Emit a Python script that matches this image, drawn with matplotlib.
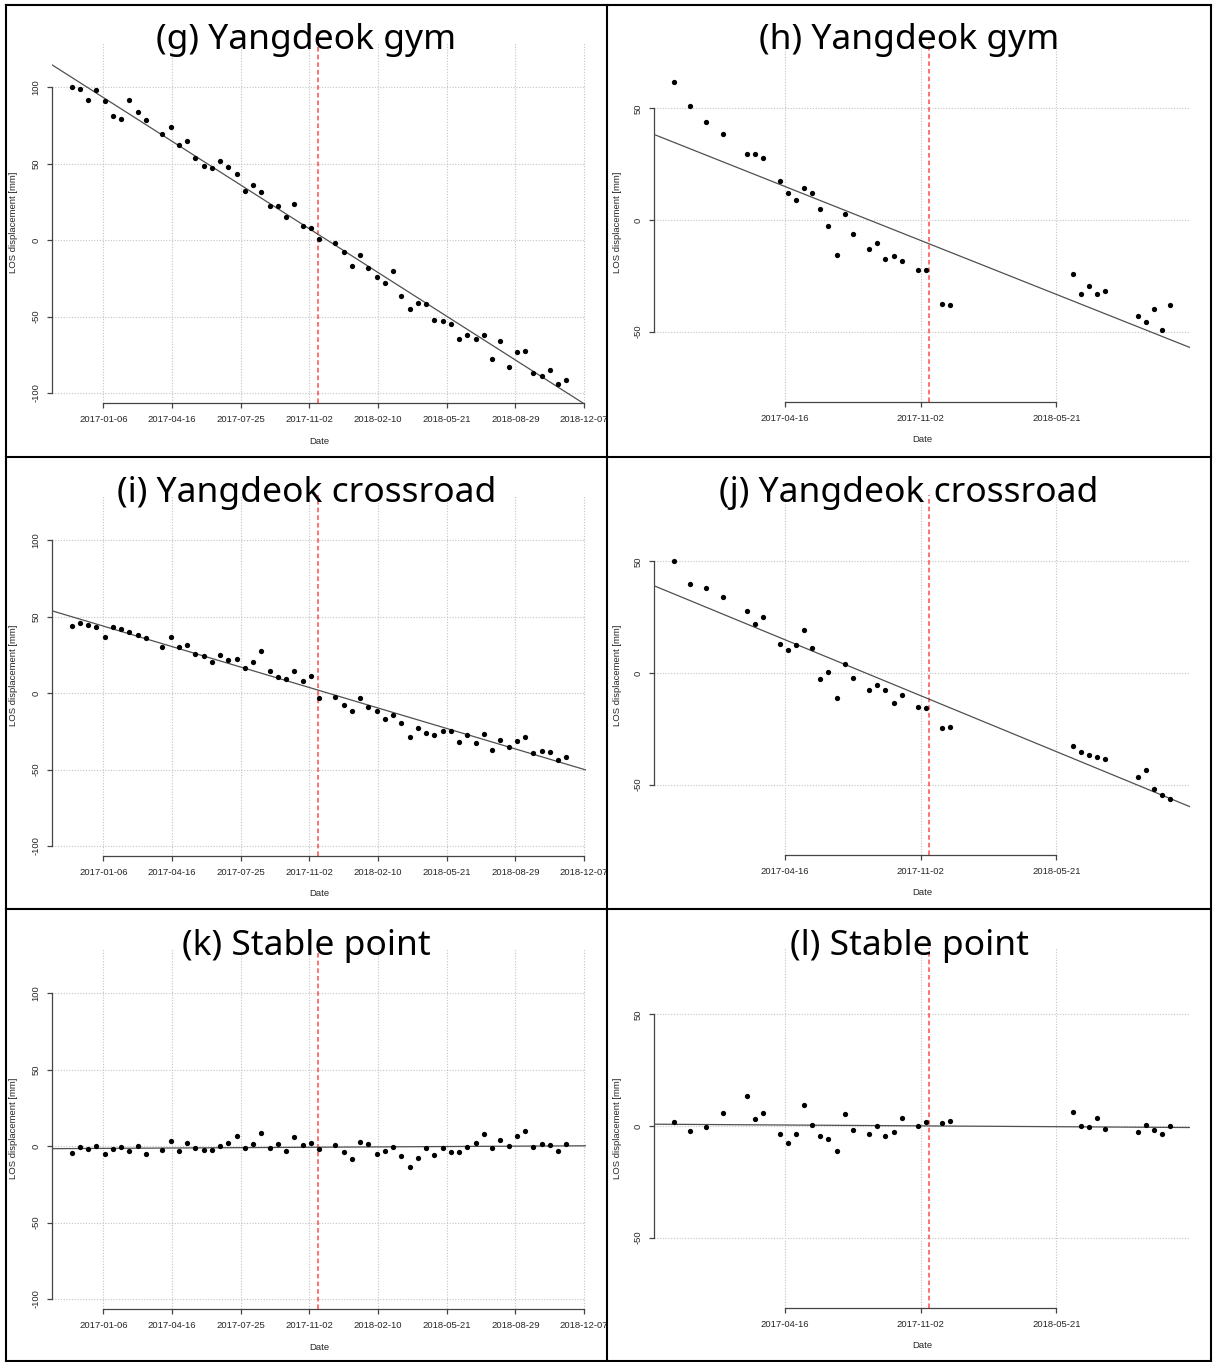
import matplotlib
matplotlib.use('Agg')
import matplotlib.pyplot as plt
import matplotlib.dates as mdates
from matplotlib.lines import Line2D
import numpy as np
import pandas as pd

W, H = 1213, 1362

# acquisition dates, first data set (panels g, i, k)
dates_a = ['2016-11-21', '2016-12-03', '2016-12-15', '2016-12-27', '2017-01-08',
           '2017-01-20', '2017-02-01', '2017-02-13', '2017-02-25', '2017-03-09',
           '2017-04-02', '2017-04-14', '2017-04-26', '2017-05-08', '2017-05-20',
           '2017-06-01', '2017-06-13', '2017-06-25', '2017-07-07', '2017-07-19',
           '2017-07-31', '2017-08-12', '2017-08-24', '2017-09-05', '2017-09-17',
           '2017-09-29', '2017-10-11', '2017-10-23', '2017-11-04', '2017-11-16',
           '2017-12-10', '2017-12-22', '2018-01-03', '2018-01-15', '2018-01-27',
           '2018-02-08', '2018-02-20', '2018-03-04', '2018-03-16', '2018-03-28',
           '2018-04-09', '2018-04-21', '2018-05-03', '2018-05-15', '2018-05-27',
           '2018-06-08', '2018-06-20', '2018-07-02', '2018-07-14', '2018-07-26',
           '2018-08-07', '2018-08-19', '2018-08-31', '2018-09-12', '2018-09-24',
           '2018-10-06', '2018-10-18', '2018-10-30', '2018-11-11']

# acquisition dates, second data set (panels h, j, l)
dates_b = ['2016-11-03', '2016-11-27', '2016-12-21', '2017-01-14', '2017-02-19',
           '2017-03-03', '2017-03-15', '2017-04-08', '2017-04-20', '2017-05-02',
           '2017-05-14', '2017-05-26', '2017-06-07', '2017-06-19', '2017-07-01',
           '2017-07-13', '2017-07-25', '2017-08-18', '2017-08-30', '2017-09-11',
           '2017-09-23', '2017-10-05', '2017-10-29', '2017-11-10', '2017-12-04',
           '2017-12-16', '2018-06-14', '2018-06-26', '2018-07-08', '2018-07-20',
           '2018-08-01', '2018-09-18', '2018-09-30', '2018-10-12', '2018-10-24',
           '2018-11-05']

g_vals = [100.2, 98.7, 91.7, 98.2, 90.8, 81.0, 78.9, 91.7, 83.9, 78.7,
          69.3, 74.1, 61.9, 64.7, 53.4, 48.4, 47.1, 51.4, 47.5, 43.1,
          32.2, 36.2, 31.4, 22.0, 22.0, 15.2, 23.3, 9.2, 8.0, 0.8,
          -1.7, -8.1, -17.0, -9.6, -18.6, -24.0, -27.9, -20.5, -36.9, -44.8,
          -41.3, -42.1, -52.2, -52.6, -54.6, -64.8, -62.0, -64.4, -62.0, -77.7,
          -65.7, -82.8, -73.1, -72.3, -86.7, -88.6, -85.2, -93.9, -91.5]

i_vals = [43.6, 46.0, 44.5, 43.2, 36.9, 43.2, 42.1, 39.7, 37.8, 35.9,
          30.0, 36.9, 29.8, 31.1, 25.3, 24.0, 20.1, 24.6, 21.4, 22.5,
          16.2, 20.5, 27.2, 14.3, 10.4, 9.3, 14.3, 7.6, 10.8, -3.0,
          -2.4, -7.8, -11.7, -3.5, -9.1, -11.7, -17.1, -14.5, -19.4, -28.5,
          -22.9, -25.9, -27.4, -24.8, -25.1, -32.2, -27.4, -32.6, -26.8, -37.4,
          -30.7, -35.4, -31.5, -28.7, -39.1, -38.0, -38.4, -43.8, -41.9]

k_vals = [-4.7, -0.9, -2.1, 0.2, -5.1, -2.1, -0.7, -3.5, 0.0, -5.1,
          -2.6, 3.3, -3.0, 1.9, -1.6, -2.6, -2.3, 0.2, 1.9, 6.5,
          -1.6, 1.2, 8.6, -1.6, 1.2, -3.5, 6.0, 0.7, 2.3, -2.1,
          0.7, -4.0, -8.6, 2.8, 1.2, -5.1, -3.0, -0.9, -6.5, -14.0,
          -7.7, -1.6, -6.0, -1.4, -3.7, -4.2, -0.7, 2.3, 7.7, -1.4,
          4.0, 0.2, 6.5, 9.5, -0.7, 1.2, 0.7, -3.5, 1.6]

h_vals = [61.6, 51.2, 43.7, 38.5, 29.7, 29.7, 27.9, 17.6, 12.2, 8.8,
          14.2, 12.2, 4.8, -2.7, -15.5, 2.7, -6.1, -12.8, -10.4, -17.5,
          -16.3, -18.2, -22.5, -22.5, -37.8, -38.2, -24.3, -33.0, -29.4, -33.0,
          -31.6, -42.8, -45.8, -40.1, -49.3, -38.2]

j_vals = [50.3, 39.9, 37.9, 34.0, 27.6, 21.9, 24.9, 13.1, 10.4, 12.5,
          19.3, 11.3, -2.8, 0.6, -11.2, 4.0, -2.4, -7.5, -5.4, -7.5,
          -13.3, -9.9, -15.2, -15.7, -24.8, -24.0, -32.5, -35.2, -36.9, -37.6,
          -38.4, -46.4, -43.6, -51.8, -54.8, -56.4]

l_vals = [1.6, -2.4, -0.6, 5.9, 13.4, 3.0, 5.9, -3.5, -7.8, -3.5,
          9.6, 0.5, -4.3, -5.8, -11.0, 5.3, -1.8, -3.5, 0.0, -4.3,
          -2.7, 3.4, 0.0, 1.9, 1.1, 2.4, 6.2, 0.0, -0.3, 3.4,
          -1.3, -2.9, 0.5, -1.8, -3.5, 0.0]

quake = '2017-11-15'
xticks_a = ['2017-01-06', '2017-04-16', '2017-07-25', '2017-11-02',
            '2018-02-10', '2018-05-21', '2018-08-29', '2018-12-07']
xticks_b = ['2017-04-16', '2017-11-02', '2018-05-21']
yticks_a = [-100, -50, 0, 50, 100]
yticks_b = [-50, 0, 50]

titles = ['(g) Yangdeok gym', '(h) Yangdeok gym',
          '(i) Yangdeok crossroad', '(j) Yangdeok crossroad',
          '(k) Stable point', '(l) Stable point']

TICKFONT = 'Liberation Sans'
FS = 6.8
AXCOL = '#262626'


def to_num(strs):
    return mdates.date2num(pd.to_datetime(strs))


def label_x(l):
    # y label sits a few px right of the cell border
    return 14 if l < 600 else 617


def draw_panel(box, dates, vals, xticks, yticks, ylim):
    l, t, r, b = box
    ax = fig.add_axes([l / W, 1 - b / H, (r - l) / W, (b - t) / H])
    x = to_num(dates)
    y = np.array(vals)
    span = x.max() - x.min()
    xl = (x.min() - 0.04 * span, x.max() + 0.04 * span)

    ax.plot(x, y, 'o', color='black', ms=3.8, mew=0, zorder=4)
    p = np.polyfit(x, y, 1)
    xx = np.array(xl)
    ax.plot(xx, np.polyval(p, xx), color='#505050', lw=0.9, zorder=3)
    ax.axvline(to_num([quake])[0], color='#ff4a4a', ls=(0, (3, 2)), lw=1.1, zorder=2)

    ax.set_xlim(xl)
    ax.set_ylim(ylim)
    xt = to_num(xticks)
    ax.set_xticks(xt)
    ax.set_xticklabels(xticks, fontsize=FS, family=TICKFONT, color=AXCOL)
    ax.set_yticks(yticks)
    ax.set_yticklabels([str(v) for v in yticks], fontsize=FS, family=TICKFONT,
                       color=AXCOL, rotation=90, va='center')
    ax.grid(True, color='#c4c4c4', ls=(0, (1, 1.5)), lw=0.8, zorder=0)
    ax.set_axisbelow(True)
    for s in ['top', 'right']:
        ax.spines[s].set_visible(False)
    ax.spines['left'].set_bounds(yticks[0], yticks[-1])
    ax.spines['bottom'].set_bounds(xt[0], xt[-1])
    for s in ['left', 'bottom']:
        ax.spines[s].set_color('#444444')
        ax.spines[s].set_linewidth(0.9)
    ax.tick_params(direction='out', length=3.4, width=0.9, color='#444444')
    ax.tick_params(axis='x', pad=5.5)
    ax.tick_params(axis='y', pad=5)

    ax.set_xlabel('Date', fontsize=FS, family=TICKFONT, color=AXCOL, va='center')
    ax.xaxis.set_label_coords(0.5, -38.0 / (b - t))
    ax.set_ylabel('LOS displacement [mm]', fontsize=FS, family=TICKFONT,
                  color=AXCOL, va='center')
    ax.yaxis.set_label_coords(-(l - label_x(l)) / (r - l), 0.5)
    return ax


fig = plt.figure(figsize=(W / 100, H / 100), dpi=100)

row_off = [0, 453, 906]
left_vals = [g_vals, i_vals, k_vals]
right_vals = [h_vals, j_vals, l_vals]

for row in range(3):
    o = row_off[row]
    draw_panel((52, 42 + o, 586, 403 + o), dates_a, left_vals[row], xticks_a,
               yticks_a, (-106.5, 129.4))
    draw_panel((654, 42 + o, 1190, 401.7 + o), dates_b, right_vals[row], xticks_b,
               yticks_b, (-81.4, 79.7))
    for col, cx in enumerate([306.5, 909]):
        fig.text(cx / W, 1 - (49 + o) / H, titles[row * 2 + col], ha='center',
                 va='baseline', fontsize=25.5, family='Noto Sans', color='black')

# table borders
lw = 1.5
for xv in [6, 607, 1211]:
    fig.add_artist(Line2D([xv / W, xv / W], [1 - 5 / H, 1 - 1361 / H],
                          transform=fig.transFigure, color='black', lw=lw))
for yv in [5, 457, 909, 1361]:
    fig.add_artist(Line2D([6 / W, 1211 / W], [1 - yv / H, 1 - yv / H],
                          transform=fig.transFigure, color='black', lw=lw))

fig.savefig('out.png', dpi=100, facecolor='white')
